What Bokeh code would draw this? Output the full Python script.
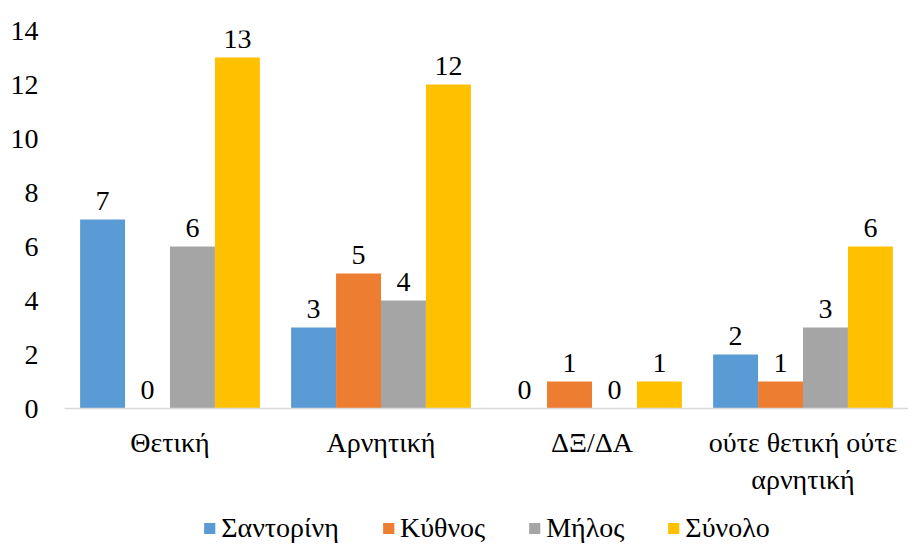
from bokeh.plotting import figure
from bokeh.layouts import column
from bokeh.models import (ColumnDataSource, FactorRange, LabelSet, Legend, LegendItem, Range1d)
from bokeh.transform import dodge
from bokeh.embed import file_html
from bokeh.resources import INLINE

categories = ["Θετική", "Αρνητική", "ΔΞ/ΔΑ", "ούτε θετική ούτε\nαρνητική"]
series_names = ["Σαντορίνη", "Κύθνος", "Μήλος", "Σύνολο"]
santorini = [7, 3, 0, 2]
kythnos = [0, 5, 1, 1]
milos = [6, 4, 0, 3]
synolo = [13, 12, 1, 6]
colors = ["#5B9BD5", "#ED7D31", "#A5A5A5", "#FFC000"]
y_ticks = [0, 2, 4, 6, 8, 10, 12, 14]

FONT = "Liberation Serif"
FS = "28px"

p = figure(x_range=FactorRange(*categories), y_range=Range1d(0, 14),
           width=908, height=507, output_backend="svg", toolbar_location=None,
           min_border_left=64, min_border_right=0, min_border_top=30, min_border_bottom=99)
p.outline_line_color = None
p.xgrid.grid_line_color = None
p.ygrid.grid_line_color = None

data = dict(cat=categories, s0=santorini, s1=kythnos, s2=milos, s3=synolo,
            t0=[str(v) for v in santorini], t1=[str(v) for v in kythnos],
            t2=[str(v) for v in milos], t3=[str(v) for v in synolo])
src = ColumnDataSource(data)

bw = 0.213
offsets = [-1.5 * bw, -0.5 * bw, 0.5 * bw, 1.5 * bw]
for i in range(4):
    p.vbar(x=dodge("cat", offsets[i], range=p.x_range), top="s%d" % i, width=bw,
           source=src, fill_color=colors[i], line_color=None)
    lbl = LabelSet(x=dodge("cat", offsets[i], range=p.x_range), y="s%d" % i, text="t%d" % i,
                   source=src, text_align="center", text_baseline="alphabetic", y_offset=10,
                   text_font=FONT, text_font_size=FS, text_color="#000000")
    p.add_layout(lbl)

p.yaxis.ticker = y_ticks
p.yaxis.axis_line_color = None
p.yaxis.major_tick_line_color = None
p.yaxis.minor_tick_line_color = None
p.yaxis.major_tick_out = 0
p.yaxis.major_label_standoff = 26
p.yaxis.major_label_text_font = FONT
p.yaxis.major_label_text_font_size = FS
p.yaxis.major_label_text_color = "#000000"

p.xaxis.axis_line_color = "#D9D9D9"
p.xaxis.axis_line_width = 1.5
p.xaxis.major_tick_line_color = None
p.xaxis.minor_tick_line_color = None
p.xaxis.major_tick_out = 0
p.xaxis.major_label_standoff = 18
p.xaxis.major_label_text_font = FONT
p.xaxis.major_label_text_font_size = FS
p.xaxis.major_label_text_color = "#000000"

# legend strip (its bars are zero-height placeholders, only the legend swatches show)
lg = figure(width=908, height=42, output_backend="svg", toolbar_location=None,
            x_range=Range1d(0, 1), y_range=Range1d(0, 1),
            x_axis_location=None, y_axis_location=None,
            min_border_left=64, min_border_right=0, min_border_top=0, min_border_bottom=0)
lg.outline_line_color = None
lg.xgrid.grid_line_color = None
lg.ygrid.grid_line_color = None
items = []
for i in range(4):
    ph = ColumnDataSource(dict(x=[0.5], top=[0]))
    r = lg.vbar(x="x", top="top", width=0.0, source=ph, fill_color=colors[i], line_color=None)
    items.append(LegendItem(label=series_names[i], renderers=[r]))
legend = Legend(items=items, orientation="horizontal", location="center",
                label_text_font=FONT, label_text_font_size=FS, label_text_color="#000000",
                glyph_width=14, glyph_height=14, label_standoff=5, spacing=42,
                border_line_color=None, background_fill_alpha=0, padding=0, margin=0)
lg.add_layout(legend)

layout = column(p, lg, spacing=0)
open("out.html", "w").write(file_html(layout, INLINE))
